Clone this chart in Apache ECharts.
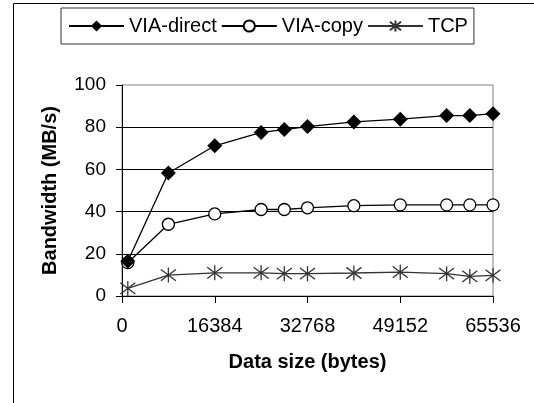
<!DOCTYPE html>
<html>
<head>
<meta charset="utf-8">
<script src="https://cdn.jsdelivr.net/npm/echarts@6/dist/echarts.min.js"></script>
<style>
  html, body { margin: 0; padding: 0; background: #fff; }
  #chart { width: 534px; height: 403px; }
</style>
</head>
<body>
<div id="chart"></div>
<script>
// ---- data ----
const dataSizes = [1024, 8192, 16384, 24576, 28672, 32768, 40960, 49152, 57344, 61440, 65536];
const viaDirect = [16.5, 58.3, 71.2, 77.5, 78.9, 80.3, 82.5, 83.8, 85.5, 85.5, 86.4];
const viaCopy   = [15.8, 34.0, 38.9, 41.0, 41.0, 41.8, 42.8, 43.2, 43.2, 43.2, 43.2];
const tcp       = [3.6, 9.9, 11.0, 11.0, 10.6, 10.6, 10.9, 11.3, 10.6, 9.3, 9.8];

const xTicks = [0, 16384, 32768, 49152, 65536];
const yTicks = [0, 20, 40, 60, 80, 100];

const FONT = '"Liberation Sans", Arial, sans-serif';

function pairs(ys) {
  return dataSizes.map((x, i) => [x, ys[i]]);
}

// asterisk marker like Excel's star
const STAR = 'path://M-6,-6L6,6M-6,6L6,-6M0,-8L0,8';

const chart = echarts.init(document.getElementById('chart'), null, { renderer: 'canvas' });

chart.setOption({
  backgroundColor: '#fff',
  animation: false,
  textStyle: { fontFamily: FONT },
  graphic: [{
    type: 'rect',
    shape: { x: 13.5, y: 3.5, width: 540, height: 420 },
    style: { fill: null, stroke: '#000', lineWidth: 1 },
    silent: true,
    z: -10
  }],
  legend: {
    left: 61,
    top: 8,
    padding: [8, 6, 8, 7],
    itemWidth: 55,
    itemHeight: 14,
    itemGap: 4,
    borderColor: '#333',
    borderWidth: 1,
    textStyle: { fontFamily: FONT, fontSize: 20, color: '#000' },
    data: ['VIA-direct', 'VIA-copy', 'TCP']
  },
  grid: {
    left: 122,
    right: 41,
    top: 85,
    bottom: 107,
    show: true,
    borderColor: '#808080',
    borderWidth: 1
  },
  xAxis: {
    type: 'value',
    min: xTicks[0],
    max: xTicks[xTicks.length - 1],
    interval: xTicks[1] - xTicks[0],
    name: 'Data size (bytes)',
    nameLocation: 'middle',
    nameGap: 56,
    nameTextStyle: { fontFamily: FONT, fontSize: 20, fontWeight: 'bold', color: '#000' },
    axisLine: { lineStyle: { color: '#000', width: 1 } },
    axisTick: { show: true, length: 7, lineStyle: { color: '#000' } },
    axisLabel: { fontFamily: FONT, fontSize: 20, color: '#000', margin: 20, formatter: v => String(v) },
    splitLine: { show: false }
  },
  yAxis: {
    type: 'value',
    min: yTicks[0],
    max: yTicks[yTicks.length - 1],
    interval: yTicks[1] - yTicks[0],
    name: 'Bandwidth (MB/s)',
    nameLocation: 'middle',
    nameRotate: 90,
    nameGap: 62,
    nameTextStyle: { fontFamily: FONT, fontSize: 20, fontWeight: 'bold', color: '#000' },
    axisLine: { show: true, lineStyle: { color: '#000', width: 1 } },
    axisTick: { show: true, length: 6, lineStyle: { color: '#000' } },
    axisLabel: { fontFamily: FONT, fontSize: 19, color: '#000', margin: 16 },
    splitLine: { show: true, showMinLine: false, showMaxLine: false, lineStyle: { color: '#000', width: 1 } }
  },
  series: [
    {
      name: 'VIA-direct',
      type: 'line',
      data: pairs(viaDirect),
      symbol: 'diamond',
      symbolSize: 15,
      lineStyle: { color: '#000', width: 1.3 },
      itemStyle: { color: '#000' },
      z: 4
    },
    {
      name: 'VIA-copy',
      type: 'line',
      data: pairs(viaCopy),
      symbol: 'circle',
      symbolSize: 12,
      lineStyle: { color: '#000', width: 1.3 },
      itemStyle: { color: '#fff', borderColor: '#000', borderWidth: 1.3 },
      z: 3
    },
    {
      name: 'TCP',
      type: 'line',
      data: pairs(tcp),
      symbol: STAR,
      symbolSize: 15,
      lineStyle: { color: '#333', width: 1.3 },
      itemStyle: { color: '#333', borderColor: '#333', borderWidth: 1.3 },
      z: 2
    }
  ]
});
</script>
</body>
</html>
